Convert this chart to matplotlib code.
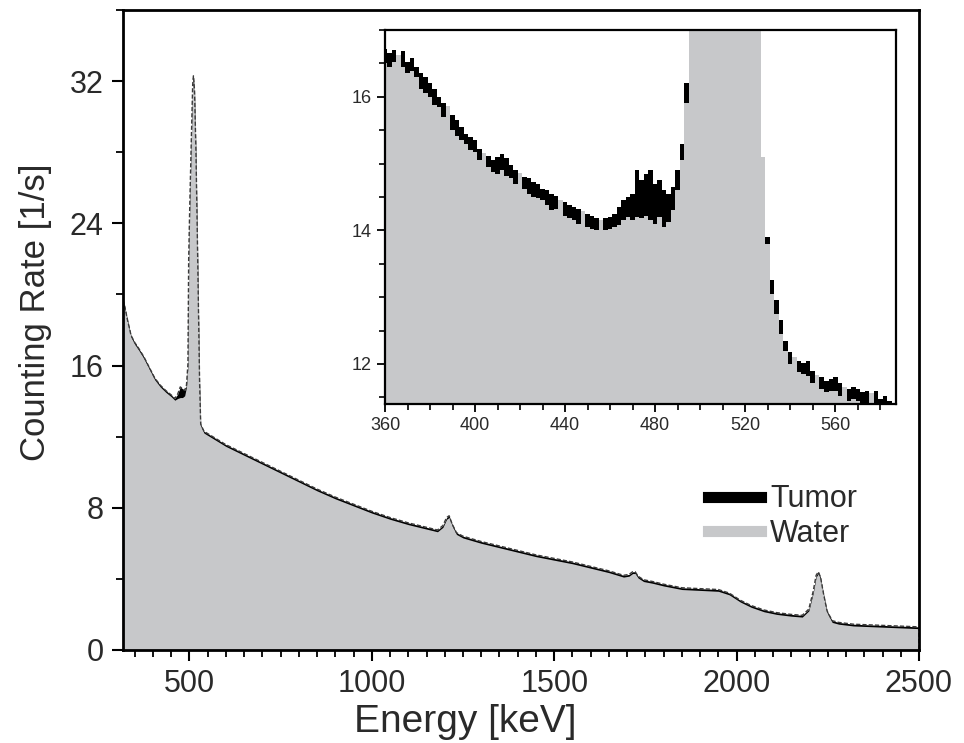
import numpy as np
import matplotlib
matplotlib.use('Agg')
import matplotlib.pyplot as plt
from matplotlib.lines import Line2D
from matplotlib.ticker import MultipleLocator

plt.rcParams['font.family'] = ['Liberation Sans', 'DejaVu Sans']

# full spectrum
energy = [318, 322, 330, 340, 350, 360, 375, 390, 405, 420, 435, 450, 460, 468, 475, 481,
          487, 492, 496, 498, 501, 505, 509, 511, 514, 518, 522, 525, 528, 531, 540, 560,
          600, 650, 700, 750, 800, 850, 900, 950, 1000, 1050, 1100, 1150, 1180, 1195, 1205,
          1212, 1220, 1232, 1250, 1300, 1350, 1400, 1450, 1500, 1550, 1600, 1650, 1690, 1705,
          1715, 1722, 1730, 1745, 1770, 1800, 1850, 1900, 1950, 1980, 2010, 2040, 2075, 2110,
          2150, 2180, 2198, 2210, 2218, 2224, 2230, 2238, 2248, 2262, 2280, 2320, 2380, 2440, 2500]
water = [19.6, 19.3, 18.5, 17.6, 17.2, 16.9, 16.4, 15.8, 15.2, 14.8, 14.5, 14.25, 14.05, 14.15, 14.2, 14.2,
         14.3, 14.8, 16.0, 22.0, 25.0, 28.5, 31.8, 32.3, 31.5, 28.0, 23.0, 19.0, 15.0, 12.6, 12.2, 11.95,
         11.45, 10.95, 10.45, 9.95, 9.45, 8.95, 8.5, 8.1, 7.7, 7.35, 7.05, 6.8, 6.65, 6.9, 7.35,
         7.45, 7.0, 6.5, 6.3, 6.0, 5.75, 5.5, 5.25, 5.05, 4.85, 4.6, 4.35, 4.1, 4.15,
         4.3, 4.3, 4.05, 3.85, 3.75, 3.6, 3.4, 3.35, 3.3, 3.1, 2.7, 2.4, 2.15, 2.0,
         1.9, 1.85, 2.2, 3.2, 4.1, 4.3, 4.0, 3.1, 2.1, 1.55, 1.45, 1.35, 1.3, 1.25, 1.2]
tumor = [19.7, 19.4, 18.6, 17.7, 17.3, 17.0, 16.5, 15.9, 15.3, 14.9, 14.6, 14.35, 14.15, 14.4, 14.8, 14.7,
         14.6, 14.9, 16.1, 22.0, 25.0, 28.5, 31.8, 32.3, 31.5, 28.0, 23.0, 19.0, 15.0, 12.7, 12.3, 12.05,
         11.55, 11.05, 10.55, 10.05, 9.55, 9.05, 8.6, 8.2, 7.8, 7.45, 7.15, 6.9, 6.75, 7.0, 7.45,
         7.55, 7.1, 6.6, 6.4, 6.1, 5.85, 5.6, 5.35, 5.15, 4.95, 4.7, 4.45, 4.2, 4.25,
         4.4, 4.4, 4.15, 3.95, 3.85, 3.7, 3.5, 3.45, 3.4, 3.2, 2.8, 2.5, 2.25, 2.1,
         2.0, 1.95, 2.3, 3.3, 4.2, 4.4, 4.1, 3.2, 2.2, 1.65, 1.55, 1.45, 1.4, 1.35, 1.3]

# zoomed region around the annihilation peak (2 keV bins)
inset_energy = np.arange(360, 590, 2)
inset_tumor = [16.72, 16.65, 16.70, 16.60, 16.68, 16.52, 16.58, 16.45, 16.35, 16.30,
               16.20, 16.12, 16.00, 15.90, 15.85, 15.72, 15.65, 15.55, 15.45, 15.40,
               15.35, 15.22, 15.15, 15.12, 15.05, 15.10, 15.15, 15.08, 14.98, 14.90,
               14.85, 14.80, 14.78, 14.72, 14.70, 14.62, 14.60, 14.55, 14.52, 14.45,
               14.42, 14.38, 14.35, 14.32, 14.28, 14.25, 14.22, 14.18, 14.15, 14.18,
               14.20, 14.25, 14.35, 14.45, 14.50, 14.55, 14.90, 14.75, 14.85, 14.90,
               14.70, 14.75, 14.60, 14.55, 14.65, 14.90, 15.30, 16.20, 17.50, 20.50,
               24.00, 26.50, 28.50, 30.50, 31.80, 32.30, 32.00, 31.00, 29.50, 27.50,
               25.00, 22.50, 19.50, 17.20, 15.00, 13.90, 13.25, 12.95, 12.65, 12.35,
               12.18, 12.10, 12.05, 12.02, 12.05, 11.90, 11.82, 11.80, 11.75, 11.78,
               11.80, 11.72, 11.65, 11.62, 11.65, 11.62, 11.58, 11.60, 11.55, 11.60,
               11.48, 11.52, 11.45, 11.42, 11.40]
inset_water = [16.50, 16.45, 16.52, 16.62, 16.45, 16.35, 16.38, 16.30, 16.12, 16.05,
               16.00, 15.88, 15.85, 15.70, 15.86, 15.50, 15.42, 15.35, 15.30, 15.20,
               15.18, 15.05, 15.16, 14.95, 14.88, 14.85, 14.90, 14.82, 14.78, 14.70,
               14.86, 14.62, 14.55, 14.50, 14.48, 14.45, 14.38, 14.30, 14.32, 14.46,
               14.22, 14.18, 14.15, 14.10, 14.29, 14.05, 14.02, 14.00, 14.16, 14.00,
               14.02, 14.05, 14.08, 14.15, 14.20, 14.15, 14.20, 14.18, 14.22, 14.15,
               14.10, 14.20, 14.05, 14.12, 14.30, 14.60, 15.05, 15.90, 17.30, 20.50,
               24.00, 26.50, 28.50, 30.50, 31.80, 32.30, 32.00, 31.00, 29.50, 27.50,
               25.00, 22.50, 19.50, 17.30, 15.10, 13.80, 13.05, 12.75, 12.45, 12.20,
               12.00, 12.11, 11.88, 11.85, 11.82, 11.72, 11.83, 11.62, 11.58, 11.60,
               11.60, 11.52, 11.66, 11.45, 11.48, 11.45, 11.40, 11.42, 11.56, 11.40,
               11.30, 11.35, 11.28, 11.25, 11.22]

gray = '#c7c8ca'
text_col = '#2a2a2a'

fig = plt.figure(figsize=(9.64, 7.43), dpi=100)
ax = fig.add_axes([0.1276, 0.1252, 0.8257, 0.8613])
ax.fill_between(energy, tumor, 0, color='black', lw=0)
ax.fill_between(energy, water, 0, color=gray, lw=0)
ax.plot([energy[0]] + energy + [energy[-1]], [0] + tumor + [0],
        color='#3a3a3a', lw=1.0, ls=(0, (3, 1.5)))
ax.set_xlim(318, 2500)
ax.set_ylim(0, 36)
ax.xaxis.set_major_locator(MultipleLocator(500))
ax.xaxis.set_minor_locator(MultipleLocator(50))
ax.yaxis.set_major_locator(MultipleLocator(8))
ax.yaxis.set_minor_locator(MultipleLocator(4))
ax.tick_params(which='major', direction='out', length=8, width=1.5, labelsize=22,
               labelcolor=text_col, pad=6)
ax.tick_params(which='minor', direction='out', length=5, width=1.3)
for s in ax.spines.values():
    s.set_linewidth(2)
ax.set_xlabel('Energy [keV]', fontsize=28, color=text_col)
ax.set_ylabel('Counting Rate [1/s]', fontsize=25, color=text_col)
ax.xaxis.set_label_coords(0.43, -0.085)
ax.yaxis.set_label_coords(-0.089, 0.528)

handles = [Line2D([], [], color='black', lw=8), Line2D([], [], color=gray, lw=8)]
ax.legend(handles, ['Tumor', 'Water'], loc='upper left', bbox_to_anchor=(0.7, 0.302),
          frameon=False, fontsize=22, handlelength=1.75, handletextpad=0.3, labelspacing=0.15,
          labelcolor=text_col)

ins = fig.add_axes([0.3994, 0.4563, 0.5301, 0.5033])
ins.fill_between(inset_energy, inset_tumor, 0, step='mid', color='black', lw=0)
ins.fill_between(inset_energy, inset_water, 0, step='mid', color=gray, lw=0)
ins.set_xlim(360, 587)
ins.set_ylim(11.4, 17.0)
ins.xaxis.set_major_locator(MultipleLocator(40))
ins.xaxis.set_minor_locator(MultipleLocator(10))
ins.yaxis.set_major_locator(MultipleLocator(2))
ins.yaxis.set_minor_locator(MultipleLocator(0.5))
ins.tick_params(which='major', direction='out', length=6, width=1.3, labelsize=13,
                labelcolor=text_col)
ins.tick_params(which='minor', direction='out', length=4, width=1.2)
for s in ins.spines.values():
    s.set_linewidth(1.6)

fig.savefig('out.png', dpi=100)
